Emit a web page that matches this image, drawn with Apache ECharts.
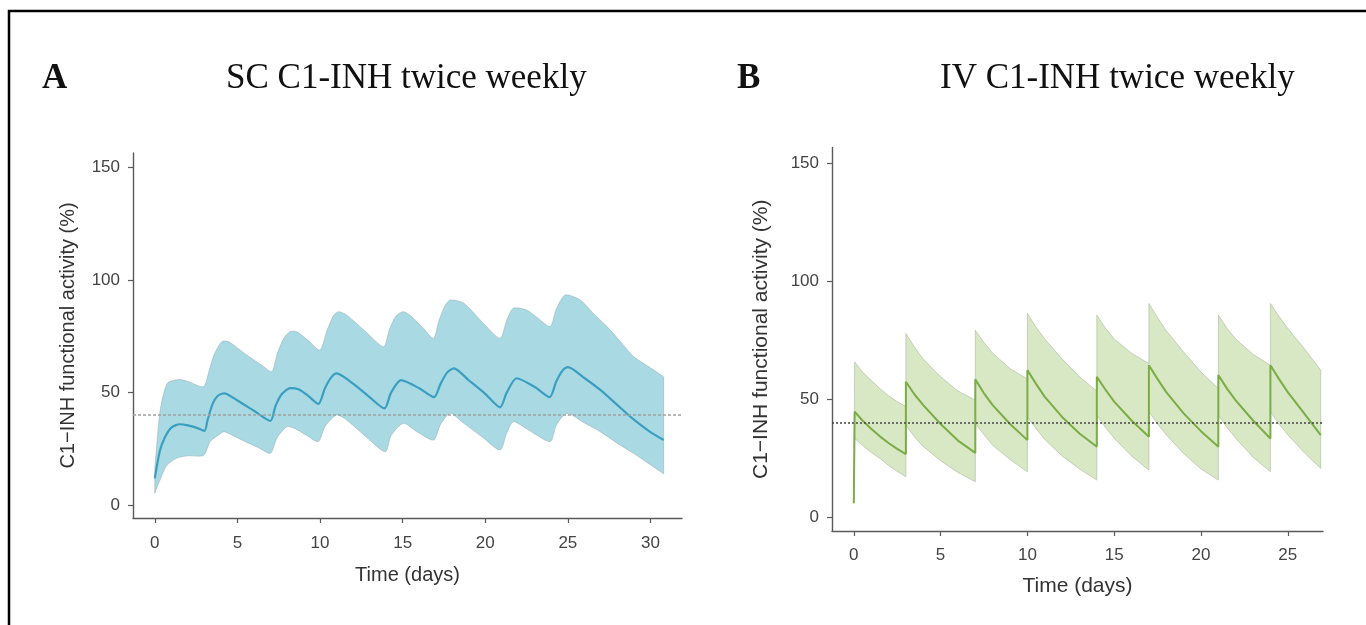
<!DOCTYPE html>
<html><head><meta charset="utf-8">
<script src="https://cdn.jsdelivr.net/npm/echarts@6/dist/echarts.min.js"></script>
<style>html,body{margin:0;padding:0;background:#fff;}#c{width:1366px;height:625px;}</style>
</head><body><div id="c"></div>
<script>
// ---------- Panel A: SC C1-INH twice weekly ----------
const aMedDays = [0,0.3,0.6,1.0,1.5,2.0,2.5,3.0,3.2,3.5,3.8,4.2,5.0,6.0,7.0,7.3,7.7,8.2,8.7,9.3,9.9,10.3,10.7,11.0,12.0,13.0,13.9,14.3,14.9,16.0,16.9,17.3,17.7,18.1,19.0,20.0,20.9,21.3,21.9,23.0,23.9,24.3,24.7,25.0,26.0,27.0,28.0,29.0,30.0,30.8];
const aMed     = [12,24,30,34.5,36,35.5,34.5,33,38,45,48.5,49.7,46.5,42,37.5,44,49.5,52,51.5,48.5,45,52,57,58.6,54,48,43,50,55.6,52,48,54,59,60.8,55.5,49.5,43.5,50,56.4,52.5,48,55,60,61.3,56.5,51,44.5,38,32.5,29];
const aUpDays  = [0,0.3,0.55,0.8,1.5,2.0,2.95,3.3,3.6,4.06,4.5,5.5,6.5,7.09,7.4,7.8,8.2,8.6,9.3,10.0,10.4,10.8,11.12,11.6,12.7,13.85,14.2,14.6,15.05,15.5,16.2,16.87,17.2,17.6,17.9,18.7,19.8,20.9,21.3,21.7,22.5,23.2,23.93,24.3,24.84,25.75,26.5,27.37,28.2,28.98,30.0,30.8];
const aUp      = [16.5,41,50,54.5,55.8,55,52.7,60,67,72.6,72.5,67,62,59.3,67,74,77.1,77,73,68.9,77,84,85.9,84.5,77.5,70.4,78,84,85.9,84,79,74.1,82,89,91.1,89.7,81.5,74.1,82,87.4,86.7,83,79.3,87,93.3,91.1,85.5,79.3,72.5,66,61,57];
const aLoDays  = [0,0.3,0.7,1.3,2.0,2.95,3.35,3.9,4.2,5.5,6.3,7.0,7.4,8.0,8.5,9.2,9.9,10.3,11.0,11.5,12.7,13.95,14.3,15.05,15.8,16.87,17.3,17.88,18.6,19.8,20.9,21.3,21.7,22.5,23.93,24.3,24.94,25.9,26.96,28.0,28.98,30.0,30.8];
const aLo      = [5.4,11,17.5,20.9,22,22.2,28.3,31.5,32.7,28.2,25.5,23.1,30,34.9,34,31,28.3,35,40.1,38.5,31,23.8,31,36.4,33,29,36,40.9,37,30.5,24.6,32,37.1,34,28.3,35.5,40.9,37,32.7,27.5,23.1,18,14];

// ---------- Panel B: IV C1-INH twice weekly ----------
const bDays = [0,0.05,0.5,1,1.5,2,2.5,3, 3,3.5,4,5,6,7, 7,7.5,8,9,10, 10,10.5,11,12,13,14, 14,14.5,15,16,17, 17,17.5,18,19,20,21, 21,21.5,22,23,24, 24,24.5,25,26,26.9];
const bMed = [6,44.7,41,37.5,34.3,31.5,29,26.8, 57.4,52,47.5,39.5,32.5,27.3, 58.4,52.5,47.5,39.5,32.7, 62.3,56.5,51,42.5,35.5,29.9, 59.5,54,49,41,34.1, 64.4,58.5,53,44,36.5,29.9, 60.2,54.5,49.5,41,33.4, 64.4,58.5,53,43.5,34.8];
const bUp  = [6,65.8,61.5,58,54.5,51.5,49,46.9, 77.8,72,67,59.5,53.5,49.6, 79.2,74,69.5,63,58.5, 86.3,80.5,75.5,67,59.5,53.5, 85.6,80,75.5,69.5,65.1, 90.5,84.5,79,70,61.5,54.6, 85.6,80,75.5,69,64.4, 90.5,85,80,71,62.3];
const bLo  = [6,33.4,30.5,27.5,25,22,19.5,17.2, 39,34,30,24,19,15.1, 39.8,35,30.5,24.5,19.3, 42.6,37.5,33,26,20.5,15.8, 43.3,38,33.5,26,20, 44.7,39.5,35,27,20.5,15.8, 43.3,38,33.5,25.5,19.3, 44.7,39.5,35,27,20.7];

const yTicks = [0,50,100,150];
const xTicksA = [0,5,10,15,20,25,30];
const xTicksB = [0,5,10,15,20,25];
const refLevel = 40;
const yTitle = 'C1\u2212INH functional activity (%)';
const xTitle = 'Time (days)';

function pairs(d, v){ return d.map((x,i)=>[x, v[i]]); }
// upper edge forward, lower edge backward; end points repeated so the smoothed outline keeps square ends
function bandPoints(ud,u,ld,l){
  const up = pairs(ud,u), lo = pairs(ld,l).reverse();
  return [up[0]].concat(up, [up[up.length-1]], [lo[0]], lo, [lo[lo.length-1]]);
}

function bandSeries(idx, pts, fill, stroke, smooth){
  return {
    type:'custom', xAxisIndex:idx, yAxisIndex:idx, data:pts, encode:{x:0,y:1}, silent:true, z:1,
    renderItem:function(params, api){
      if (params.dataIndex !== 0) return null;
      const coords = pts.map(p => api.coord(p));
      return {type:'polygon', shape:{points:coords, smooth:smooth}, style:{fill:fill, stroke:stroke, lineWidth:1}};
    }
  };
}

const axisCol = '#5a5a5a';
const labCol = '#444444';
const sans = '"Liberation Sans", Arial, sans-serif';

function xAxisCfg(idx, min, max, ticks, fs, gap, margin){
  return {gridIndex:idx, type:'value', min:min, max:max,
    axisLine:{show:true, onZero:false, lineStyle:{color:axisCol, width:1.4}},
    axisTick:{show:true, length:5, customValues:ticks, lineStyle:{color:axisCol, width:1.2}},
    axisLabel:{customValues:ticks, fontSize:17, color:labCol, margin:margin, fontFamily:sans},
    splitLine:{show:false},
    name:xTitle, nameLocation:'middle', nameGap:gap,
    nameTextStyle:{fontSize:fs, color:'#333', fontFamily:sans}};
}
function yAxisCfg(idx, min, max, fs, gap){
  return {gridIndex:idx, type:'value', min:min, max:max,
    axisLine:{show:true, onZero:false, lineStyle:{color:axisCol, width:1.4}},
    axisTick:{show:true, length:5, customValues:yTicks, lineStyle:{color:axisCol, width:1.2}},
    axisLabel:{customValues:yTicks, fontSize:17, color:labCol, margin:13, fontFamily:sans},
    splitLine:{show:false},
    name:yTitle, nameLocation:'middle', nameGap:gap, nameRotate:90,
    nameTextStyle:{fontSize:fs, color:'#333', fontFamily:sans}};
}

const serifBold = 'bold 35px "Liberation Serif", "Times New Roman", serif';
const serif = '35px "Liberation Serif", "Times New Roman", serif';

const chart = echarts.init(document.getElementById('c'), null, {renderer:'canvas'});
chart.setOption({
  backgroundColor:'#ffffff',
  animation:false,
  grid:[
    {left:133, top:153, width:549, height:365},
    {left:832, top:147.5, width:491, height:383.5}
  ],
  xAxis:[ xAxisCfg(0,-1.32,31.91,xTicksA,20,47,17), xAxisCfg(1,-1.256,27.03,xTicksB,21,45,16) ],
  yAxis:[ yAxisCfg(0,-5.59,156.3,20,55), yAxisCfg(1,-5.75,156.5,21,60) ],
  series:[
    bandSeries(0, bandPoints(aUpDays,aUp,aLoDays,aLo), '#a9dae3', 'rgba(140,170,175,0.5)', 0.25),
    {type:'line', xAxisIndex:0, yAxisIndex:0, data:pairs(aMedDays,aMed), showSymbol:false, silent:true, z:3,
     smooth:0.25, lineStyle:{color:'#3a9ec0', width:2.2},
     markLine:{silent:true, symbol:'none', label:{show:false}, data:[{yAxis:refLevel}],
       lineStyle:{color:'#a0a0a0', type:[3,2], width:1.5}}},
    bandSeries(1, bandPoints(bDays,bUp,bDays,bLo), '#d8e7c4', 'rgba(170,185,160,0.6)', 0),
    {type:'line', xAxisIndex:1, yAxisIndex:1, data:pairs(bDays,bMed), showSymbol:false, silent:true, z:3,
     lineStyle:{color:'#7aad44', width:2},
     markLine:{silent:true, symbol:'none', label:{show:false}, data:[{yAxis:refLevel}],
       lineStyle:{color:'#444444', type:[2,2], width:1.6}}}
  ],
  graphic:[
    {type:'rect', shape:{x:9, y:11, width:1400, height:700}, style:{fill:'none', stroke:'#000', lineWidth:2.5}, z:100},
    {type:'text', x:42, y:96, style:{text:'A', font:serifBold, fill:'#111', textVerticalAlign:'bottom'}},
    {type:'text', x:226, y:96, style:{text:'SC C1-INH twice weekly', font:serif, fill:'#111', textVerticalAlign:'bottom'}},
    {type:'text', x:737, y:96, style:{text:'B', font:serifBold, fill:'#111', textVerticalAlign:'bottom'}},
    {type:'text', x:940, y:96, style:{text:'IV C1-INH twice weekly', font:serif, fill:'#111', textVerticalAlign:'bottom'}}
  ]
});
</script></body></html>
